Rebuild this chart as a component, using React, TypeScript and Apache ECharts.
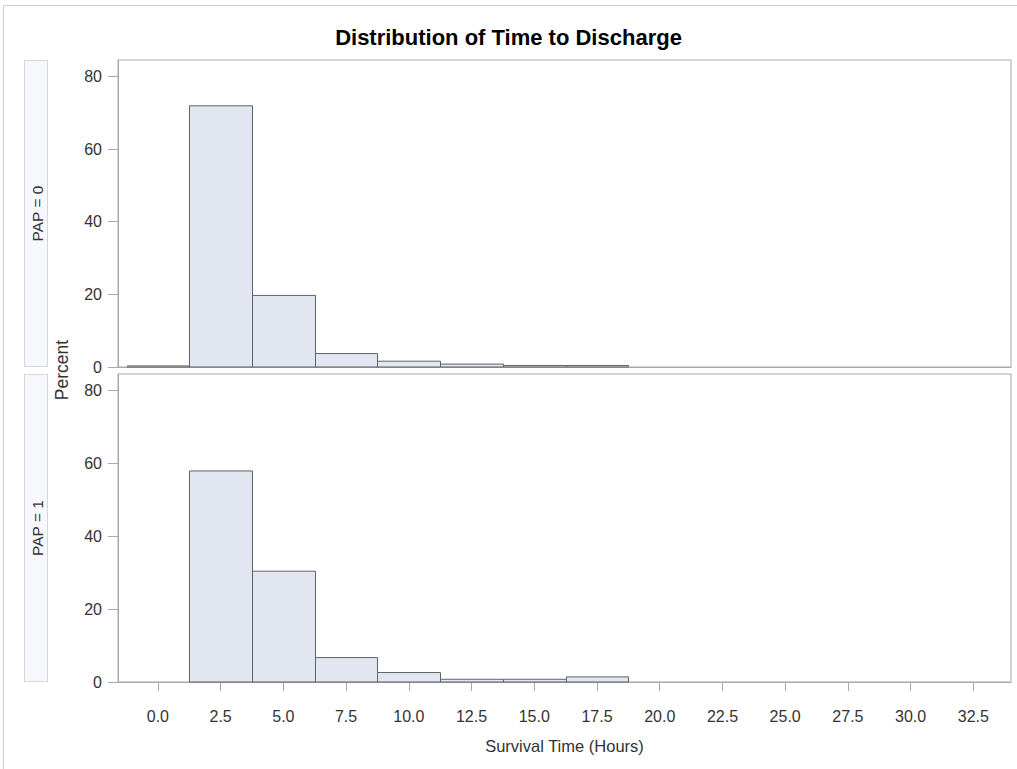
import React, { useEffect, useRef } from "react";
import * as echarts from "echarts";

const binCenters = [0, 2.5, 5, 7.5, 10, 12.5, 15, 17.5];
const binWidth = 2.5;
const pap0Percent = [0.3, 71.9, 19.7, 3.7, 1.6, 0.8, 0.4, 0.4];
const pap1Percent = [0, 57.9, 30.4, 6.7, 2.6, 0.75, 0.75, 1.4];
const xTicks = [0, 2.5, 5, 7.5, 10, 12.5, 15, 17.5, 20, 22.5, 25, 27.5, 30, 32.5];
const yTicks = [0, 20, 40, 60, 80];
const panelLabels = ["PAP = 0", "PAP = 1"];
const titleText = "Distribution of Time to Discharge";
const xAxisTitle = "Survival Time (Hours)";
const yAxisTitle = "Percent";

const FONT = "'Liberation Sans', Arial, sans-serif";
const FRAME = "#a9a9a9";
const TEXT = "#333333";
const BAR_FILL = "#e1e6f0";
const BAR_EDGE = "#5f6368";

const panels = [
  { top: 60, height: 307 },
  { top: 374, height: 308 },
];

export default function App() {
  const ref = useRef<HTMLDivElement>(null);
  useEffect(() => {
    if (!ref.current) return;
    const chart = echarts.init(ref.current, null, { renderer: "svg" });
    const seriesData = [pap0Percent, pap1Percent];

    const grids = panels.map((p) => ({
      left: 118,
      right: 6,
      top: p.top,
      height: p.height,
      show: true,
      borderColor: FRAME,
      borderWidth: 1,
      backgroundColor: "transparent",
    }));

    const xAxes = panels.map((_, i) => ({
      type: "value",
      gridIndex: i,
      min: -1.59,
      max: 34.0,
      splitLine: { show: false },
      axisLine: { show: true, onZero: false, lineStyle: { color: FRAME } },
      axisTick: {
        show: i === 1,
        length: 9,
        customValues: xTicks,
        lineStyle: { color: FRAME },
      },
      axisLabel: {
        show: i === 1,
        customValues: xTicks,
        formatter: (v: number) => v.toFixed(1),
        color: TEXT,
        fontSize: 16,
        fontFamily: FONT,
        margin: 26,
      },
      name: i === 1 ? xAxisTitle : "",
      nameLocation: "middle",
      nameGap: 55,
      nameTextStyle: { color: TEXT, fontSize: 16.5, fontFamily: FONT },
    }));

    const yAxes = panels.map((_, i) => ({
      type: "value",
      gridIndex: i,
      min: 0,
      max: 84.5,
      splitLine: { show: false },
      axisLine: { show: true, onZero: false, lineStyle: { color: FRAME } },
      axisTick: {
        show: true,
        length: 10,
        customValues: yTicks,
        lineStyle: { color: FRAME },
      },
      axisLabel: {
        customValues: yTicks,
        color: TEXT,
        fontSize: 16,
        fontFamily: FONT,
        margin: 16,
      },
    }));

    const series = seriesData.map((vals, i) => ({
      type: "custom",
      xAxisIndex: i,
      yAxisIndex: i,
      encode: { x: 0, y: 1 },
      data: binCenters.map((c, j) => [c, vals[j]]),
      renderItem: (params: any, api: any) => {
        const c = api.value(0);
        const v = api.value(1);
        if (!v) return null;
        const p0 = api.coord([c - binWidth / 2, v]);
        const p1 = api.coord([c + binWidth / 2, 0]);
        return {
          type: "rect",
          shape: {
            x: Math.round(p0[0]) + 0.5,
            y: p0[1],
            width: Math.round(p1[0]) - Math.round(p0[0]),
            height: p1[1] - p0[1],
          },
          style: { fill: BAR_FILL, stroke: BAR_EDGE, lineWidth: 1 },
        };
      },
    }));

    const graphics: any[] = [
      {
        type: "rect",
        shape: { x: 3.5, y: 5.5, width: 1100, height: 900 },
        style: { fill: "none", stroke: "#d0d0d0", lineWidth: 1 },
        silent: true,
      },
    ];
    panels.forEach((p, i) => {
      graphics.push({
        type: "rect",
        shape: { x: 24.5, y: p.top + 0.5, width: 23, height: p.height - 1 },
        style: { fill: "#f7f8fe", stroke: "#d6d6d6", lineWidth: 1 },
        silent: true,
      });
      graphics.push({
        type: "text",
        x: 37,
        y: p.top + p.height / 2,
        rotation: Math.PI / 2,
        style: {
          text: panelLabels[i],
          fill: TEXT,
          font: `15.5px ${FONT}`,
          align: "center",
          verticalAlign: "middle",
        },
        silent: true,
      });
    });
    graphics.push({
      type: "text",
      x: 62,
      y: 370,
      rotation: Math.PI / 2,
      style: {
        text: yAxisTitle,
        fill: TEXT,
        font: `17.5px ${FONT}`,
        align: "center",
        verticalAlign: "middle",
      },
      silent: true,
    });

    chart.setOption({
      animation: false,
      backgroundColor: "#ffffff",
      title: {
        text: titleText,
        left: "center",
        top: 21,
        textStyle: { color: "#000", fontSize: 22, fontWeight: "bold", fontFamily: FONT },
      },
      grid: grids,
      xAxis: xAxes,
      yAxis: yAxes,
      series,
      graphic: graphics,
    });
    return () => chart.dispose();
  }, []);
  return (
    <div
      ref={ref}
      style={{ position: "fixed", left: 0, top: 0, width: 1017, height: 769 }}
    />
  );
}
